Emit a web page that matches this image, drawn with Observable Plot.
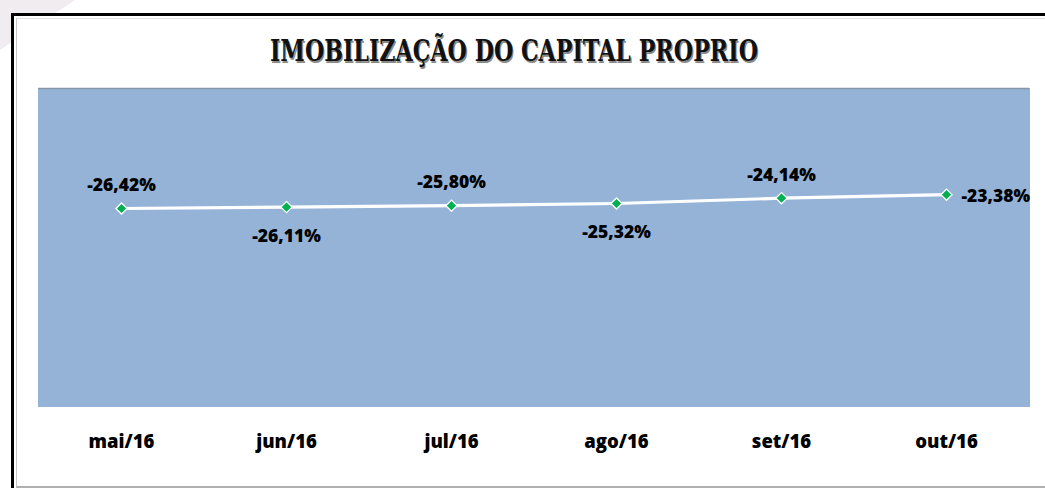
<!DOCTYPE html>
<html><head><meta charset="utf-8">
<script src="https://cdn.jsdelivr.net/npm/d3@7"></script>
<script src="https://cdn.jsdelivr.net/npm/@observablehq/plot@0.6"></script>
<style>
body{margin:0;background:#fff;width:1045px;height:488px;overflow:hidden;position:relative;font-family:"Open Sans",sans-serif}
#corner{position:absolute;left:0;top:0;width:75px;height:50px;background:#f1ecef;clip-path:polygon(0 0,100% 0,0 100%)}
#frame{position:absolute;left:11px;top:13px;width:1050px;height:475px;border-left:3px solid #000;border-top:3px solid #000;box-sizing:border-box;background:#fff}
#inner{position:absolute;left:2px;top:2px;right:0;bottom:0;border-left:1px solid #c8c8c8;border-top:1px solid #e0e0e0;border-bottom:2px solid #b0b0b0;box-sizing:border-box}
#chart{position:absolute;left:0;top:0}
#title{position:absolute;top:35px;white-space:nowrap;font-family:"DejaVu Serif",serif;font-weight:bold;font-size:30px;line-height:32px;color:#111;text-shadow:1.5px 1.5px 0 #8a8a8a;transform-origin:center center}
</style></head><body>
<div id="corner"></div>
<div id="frame"><div id="inner"></div></div>
<div id="chart"></div>
<span id="title">IMOBILIZAÇÃO DO CAPITAL PROPRIO</span>
<script>
const months = ["mai/16", "jun/16", "jul/16", "ago/16", "set/16", "out/16"];
const values = [-26.42, -26.11, -25.80, -25.32, -24.14, -23.38];

const fmt = v => v.toFixed(2).replace(".", ",") + "%";
const data = months.map((m, i) => ({
  month: m,
  value: values[i],
  label: fmt(values[i]),
  pos: i === months.length - 1 ? "right" : (i % 2 === 0 ? "above" : "below")
}));

const txt = {x: "month", y: "value", text: "label", fontSize: 17.5, fontWeight: 800, fill: "#000"};

const plot = Plot.plot({
  width: 1045, height: 488,
  marginLeft: 38, marginRight: 16, marginTop: 88, marginBottom: 82,
  x: {type: "point", domain: months, padding: 0.5, label: null},
  y: {domain: [-70, 0], axis: null},
  style: {background: "transparent", fontFamily: "Open Sans", overflow: "visible"},
  marks: [
    Plot.frame({fill: "#95B3D7", stroke: "#95B3D7"}),
    Plot.ruleY([0], {stroke: "#8896a8", strokeWidth: 1.5}),
    Plot.line(data, {x: "month", y: "value", stroke: "#fff", strokeWidth: 3.2}),
    Plot.dot(data, {x: "month", y: "value", symbol: "diamond2", r: 5, fill: "#00B050", stroke: "#fff", strokeWidth: 1.3}),
    Plot.text(data.filter(d => d.pos === "above"), {...txt, dy: -23}),
    Plot.text(data.filter(d => d.pos === "below"), {...txt, dy: 29}),
    Plot.text(data.filter(d => d.pos === "right"), {...txt, dx: 15, dy: 2, textAnchor: "start"}),
    Plot.axisX({tickSize: 0, tickPadding: 28, fontSize: 18.5, fontWeight: 800, fill: "#000", label: null})
  ]
});
document.getElementById("chart").appendChild(plot);

const t = document.getElementById("title");
const w = t.getBoundingClientRect().width;
const target = 488, cx = 514;
t.style.left = (cx - w / 2) + "px";
t.style.transform = `scaleX(${target / w})`;
</script>
</body></html>
